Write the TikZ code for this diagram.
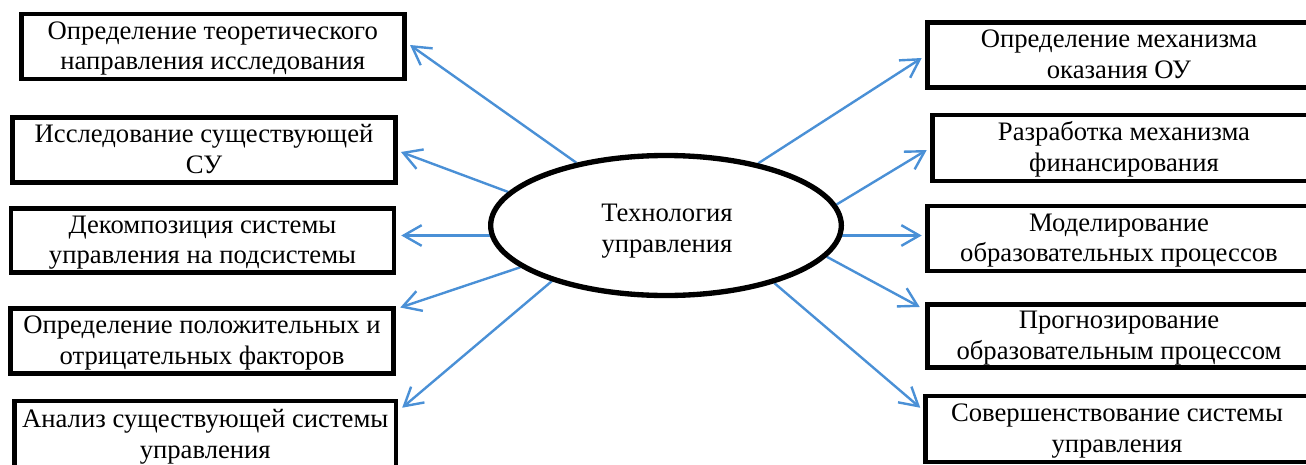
\documentclass[tikz,border=0pt]{standalone}
\usepackage{fontspec}
\setmainfont{Liberation Serif}
\usetikzlibrary{shapes.geometric,arrows.meta,calc,backgrounds}
\definecolor{arrowblue}{RGB}{74,144,214}
\newcommand{\twolines}[2]{\rule{0pt}{17pt}#1\\#2\rule[-5pt]{0pt}{5pt}}
\tikzset{
  boxnode/.style={draw=black, line width=3.4pt, fill=white, inner sep=0pt,
    minimum width=287.25pt, align=center,
    font=\fontsize{20}{23}\selectfont},
  centernode/.style={draw=black, line width=4pt, fill=white, ellipse, inner sep=0pt,
    minimum width=263pt, minimum height=105pt},
  ctext/.style={align=center, inner sep=0pt, font=\fontsize{20}{23}\selectfont},
  arr/.style={draw=arrowblue, line width=1.8pt, -{Straight Barb[length=13.5pt,width=15.5pt]}}
}
\begin{document}
\begin{tikzpicture}[x=0.75pt,y=-0.75pt]
\useasboundingbox (0,0) rectangle (1306,464);
% left boxes
\node[boxnode, minimum height=48.75pt] (L1) at (212.75,46.5) {\twolines{Определение теоретического}{направления исследования}};
\node[boxnode, minimum height=48.75pt] (L2) at (204,150) {\twolines{Исследование существующей}{СУ}};
\node[boxnode, minimum height=48pt] (L3) at (202.5,240.5) {\twolines{Декомпозиция системы}{управления на подсистемы}};
\node[boxnode, minimum height=49.1pt] (L4) at (202,341) {\twolines{Определение положительных и}{отрицательных факторов}};
\node[boxnode, minimum height=51pt, minimum width=286pt] (L5) at (205.25,435) {\twolines{Анализ существующей системы}{управления}};
% right boxes
\node[boxnode, minimum height=48.75pt] (R1) at (1119,55) {\twolines{Определение механизма}{оказания ОУ}};
\node[boxnode, minimum height=49.5pt] (R2) at (1124,148) {\twolines{Разработка механизма}{финансирования}};
\node[boxnode, minimum height=48.75pt] (R3) at (1119,238.5) {\twolines{Моделирование}{образовательных процессов}};
\node[boxnode, minimum height=47.6pt] (R4) at (1119,336) {\twolines{Прогнозирование}{образовательным процессом}};
\node[boxnode, minimum height=49.5pt] (R5) at (1117,429) {\twolines{Совершенствование системы}{управления}};
% center
\node[centernode] (E) at (666,225.5) {};
\node[ctext] (Et) at (667,228.7) {\twolines{Технология}{управления}};
% arrows
\begin{scope}[on background layer]
\draw[arr] (E.145.4) -- ($(L1.east)+(3.5,-1.5)$);
\draw[arr] (E.168.1) -- ($(L2.east)+(3.2,2)$);
\draw[arr] ($(E.west)+(2,10)$) -- ($(L3.east)+(5,-5)$);
\draw[arr] (E.196) -- ($(L4.north east)+(4.5,1.5)$);
\draw[arr] (E.206.6) -- ($(L5.north east)+(4,9)$);
\draw[arr] (E.34.7) -- ($(R1.west)+(-3.5,3)$);
\draw[arr] (E.7.9) -- ($(R2.west)+(-3.5,2)$);
\draw[arr] ($(E.east)+(-2,10)$) -- ($(R3.west)+(-3.5,-3)$);
\draw[arr] (E.349) -- ($(R4.north west)+(-5.5,5)$);
\draw[arr] (E.332.4) -- ($(R5.north west)+(-3,14)$);
\end{scope}
\end{tikzpicture}
\end{document}
